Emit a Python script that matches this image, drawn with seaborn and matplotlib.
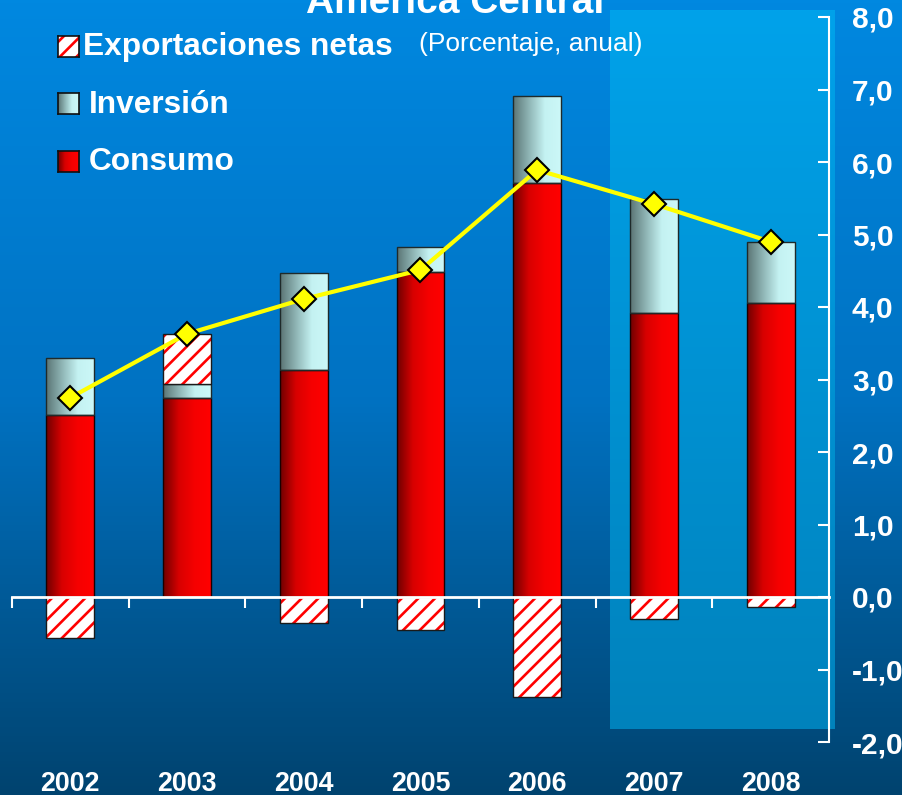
import numpy as np
import pandas as pd
import matplotlib
matplotlib.use("Agg")
import matplotlib.pyplot as plt
import seaborn as sns
from matplotlib.colors import LinearSegmentedColormap
from matplotlib.patches import Rectangle

# datos (porcentaje, anual)
years = ["2002", "2003", "2004", "2005", "2006", "2007", "2008"]
consumo = [2.51, 2.74, 3.13, 4.48, 5.71, 3.92, 4.06]
inversion = [0.79, 0.20, 1.34, 0.35, 1.20, 1.57, 0.84]
exportaciones = [-0.57, 0.69, -0.36, -0.45, -1.38, -0.30, -0.14]
pib = [2.75, 3.63, 4.11, 4.51, 5.89, 5.42, 4.90]
y_ticks = [-2, -1, 0, 1, 2, 3, 4, 5, 6, 7, 8]

df = pd.DataFrame({"anio": years, "consumo": consumo, "inversion": inversion,
                   "exportaciones": exportaciones, "pib": pib})
df["tope_inv"] = df["consumo"] + df["inversion"]
df["base_exp"] = np.where(df["exportaciones"] > 0, df["tope_inv"], 0.0)

sns.set_theme(style="white")
plt.rcParams['font.family'] = ['Liberation Sans', 'DejaVu Sans']
plt.rcParams['hatch.linewidth'] = 1.9

cm_bg = LinearSegmentedColormap.from_list("bg", ["#0088E0", "#0072C2", "#00436F"])
cm_proy = LinearSegmentedColormap.from_list("proy", ["#00A2EA", "#0082BC"])
cm_rojo = LinearSegmentedColormap.from_list("rojo", ["#6E0000", "#D80000", "#F60000", "#FF0000"])
cm_inv = LinearSegmentedColormap.from_list("inv", ["#5A7474", "#8FB5B5", "#C4F2F2", "#CCF8F8"])

grad_v = np.linspace(0, 1, 256).reshape(-1, 1)
grad_h = np.linspace(0, 1, 256).reshape(1, -1)

fig = plt.figure(figsize=(9.03, 7.95), dpi=100)
bg = fig.add_axes([0, 0, 1, 1], zorder=-10)
bg.imshow(grad_v, aspect='auto', cmap=cm_bg, extent=(0, 1, 0, 1))
bg.axis('off')

ax = fig.add_axes([12/903, 53/795, 817/903, 725/795])
ax.patch.set_alpha(0)

# zona de proyeccion 2007-2008
ax.imshow(grad_v, aspect='auto', cmap=cm_proy, extent=(4.624, 6.544, -1.82, 8.097),
          zorder=0.5, clip_on=False)

def rellenar(patches, cmap):
    for p in patches:
        x0, y0 = p.get_x(), p.get_y()
        w, h = p.get_width(), p.get_height()
        im = ax.imshow(grad_h, aspect='auto', cmap=cmap,
                       extent=(x0, x0 + w, min(y0, y0 + h), max(y0, y0 + h)), zorder=2)
        im.set_clip_path(p)

n0 = len(ax.patches)
sns.barplot(data=df, x="anio", y="consumo", ax=ax, width=0.41, errorbar=None, color='red',
            facecolor='none', edgecolor='#1a0000', linewidth=1, zorder=3)
rellenar(ax.patches[n0:], cm_rojo)

n0 = len(ax.patches)
sns.barplot(data=df, x="anio", y="inversion", bottom=df["consumo"].values, ax=ax, width=0.41,
            errorbar=None, color='lightcyan', facecolor='none', edgecolor='#1f2a2a',
            linewidth=1, zorder=3)
rellenar(ax.patches[n0:], cm_inv)

sns.barplot(data=df, x="anio", y="exportaciones", bottom=df["base_exp"].values, ax=ax,
            width=0.41, errorbar=None, color='white', facecolor='white', edgecolor='#FF0000',
            hatch='//', linewidth=0, zorder=3)
sns.barplot(data=df, x="anio", y="exportaciones", bottom=df["base_exp"].values, ax=ax,
            width=0.41, errorbar=None, color='white', facecolor='none', edgecolor='#1a1a1a',
            linewidth=1, zorder=4)

sns.lineplot(x=np.arange(len(years)), y=df["pib"], ax=ax, color='#FFFF00', linewidth=3,
             marker='D', markersize=12, markerfacecolor='#FFFF00', markeredgecolor='black',
             markeredgewidth=1.5, zorder=6)

ax.set_xlim(-0.5, 6.5)
ax.set_ylim(-2, 8)
ax.set_xlabel('')
ax.set_ylabel('')
for s in ['left', 'top']:
    ax.spines[s].set_visible(False)
ax.spines['right'].set_color('white')
ax.spines['right'].set_linewidth(1.5)
ax.spines['bottom'].set_position(('data', 0))
ax.spines['bottom'].set_color('white')
ax.spines['bottom'].set_linewidth(2)
ax.spines['bottom'].set_zorder(5)

ax.yaxis.tick_right()
ax.set_yticks(y_ticks)
ax.set_yticklabels([f"{v:.1f}".replace('.', ',') for v in y_ticks])
ax.tick_params(axis='y', direction='in', length=8, width=1.5, color='white',
               labelcolor='white', labelsize=21.5, pad=16.5)
for lb in ax.get_yticklabels():
    lb.set_fontweight('bold')

ax.set_xticks(np.arange(-0.5, 6, 1))
ax.set_xticklabels([])
ax.tick_params(axis='x', direction='out', length=8, width=1.5, color='white', bottom=True)

for i, yr in enumerate(years):
    ax.text(i, -0.067, yr, transform=ax.get_xaxis_transform(), ha='center', va='baseline',
            color='white', fontsize=19.3, fontweight='bold')

fig.text(455/903, 1 - 13/795, "América Central", ha='center', va='baseline',
         color='white', fontsize=28, fontweight='bold')
fig.text(419/903, 1 - 51/795, "(Porcentaje, anual)", ha='left', va='baseline',
         color='white', fontsize=19)

# leyenda manual
def cuadro(ytop):
    lax = fig.add_axes([58/903, 1 - (ytop + 21)/795, 21/903, 21/795])
    lax.set_xticks([])
    lax.set_yticks([])
    for s in lax.spines.values():
        s.set_color('#101010')
        s.set_linewidth(1.2)
    return lax

l1 = cuadro(36)
l1.add_patch(Rectangle((0, 0), 1, 1, transform=l1.transAxes, facecolor='white',
                       edgecolor='#FF0000', hatch='//', linewidth=0))
l2 = cuadro(93)
l2.imshow(grad_h, aspect='auto', cmap=cm_inv, extent=(0, 1, 0, 1))
l3 = cuadro(151)
l3.imshow(grad_h, aspect='auto', cmap=cm_rojo, extent=(0, 1, 0, 1))

fig.text(83/903, 1 - 55/795, "Exportaciones netas", va='baseline', color='white',
         fontsize=22.8, fontweight='bold')
fig.text(89/903, 1 - 113/795, "Inversión", va='baseline', color='white',
         fontsize=22.8, fontweight='bold')
fig.text(89/903, 1 - 170/795, "Consumo", va='baseline', color='white',
         fontsize=22.8, fontweight='bold')

fig.savefig("out.png", dpi=100)
